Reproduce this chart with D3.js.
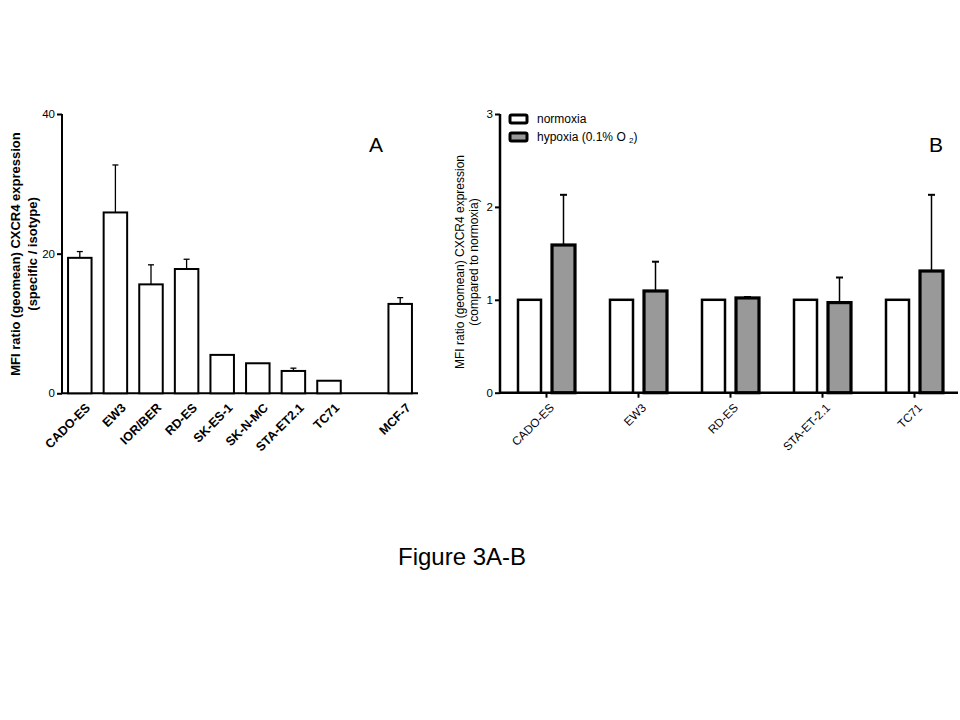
<!DOCTYPE html>
<html><head><meta charset="utf-8">
<script src="https://cdn.jsdelivr.net/npm/d3@7"></script>
<style>body{margin:0;background:#fff}svg{display:block}text{font-family:Arial,"Liberation Sans",sans-serif}</style>
</head><body>
<svg id="c" width="960" height="720"></svg>
<script>
// Panel A data
const catsA = ["CADO-ES","EW3","IOR/BER","RD-ES","SK-ES-1","SK-N-MC","STA-ET2.1","TC71","","MCF-7"];
const valsA = [19.4, 25.9, 15.6, 17.8, 5.5, 4.3, 3.2, 1.8, null, 12.8];
const errA  = [20.3, 32.7, 18.4, 19.2, null, null, 3.6, null, null, 13.7];
const ticksA = [0, 20, 40];
// Panel B data
const catsB = ["CADO-ES","EW3","RD-ES","STA-ET-2.1","TC71"];
const normoxia = [1, 1, 1, 1, 1];
const hypoxia = [1.59, 1.095, 1.02, 0.97, 1.31];
const hypoxiaErr = [2.13, 1.41, 1.03, 1.24, 2.13];
const ticksB = [0, 1, 2, 3];

const svg = d3.select("#c");

// ---------- Panel A ----------
const A = {x0: 62, x1: 418, y0: 393.3, y1: 114};
const xA = d3.scaleBand().domain(d3.range(catsA.length)).range([A.x0, A.x1]).paddingInner(0.34).paddingOuter(0.17);
const yA = d3.scaleLinear().domain([0, 40]).range([A.y0, A.y1]);
const gA = svg.append("g");

const yAxA = gA.append("g").attr("transform", `translate(${A.x0},0)`)
  .call(d3.axisLeft(yA).tickValues(ticksA).tickSize(5).tickPadding(2));
yAxA.select(".domain").attr("stroke-width", 2).attr("d", `M0,${A.y0}V${A.y1}`);
yAxA.selectAll(".tick line").attr("stroke-width", 2);
yAxA.selectAll("text").attr("font-size", 11.5).attr("font-family", "Arial");

gA.append("line").attr("x1", A.x0).attr("x2", A.x1).attr("y1", A.y0).attr("y2", A.y0)
  .attr("stroke", "#000").attr("stroke-width", 2);

const idxA = d3.range(catsA.length).filter(i => valsA[i] != null);
gA.selectAll(".errA").data(idxA.filter(i => errA[i] != null)).join("g").each(function(i){
  const cx = xA(i) + xA.bandwidth()/2, w = 6;
  const g = d3.select(this);
  g.append("line").attr("x1", cx).attr("x2", cx).attr("y1", yA(valsA[i])).attr("y2", yA(errA[i])).attr("stroke", "#000").attr("stroke-width", 1.3);
  g.append("line").attr("x1", cx - w/2).attr("x2", cx + w/2).attr("y1", yA(errA[i])).attr("y2", yA(errA[i])).attr("stroke", "#000").attr("stroke-width", 1.3);
});
gA.selectAll(".barA").data(idxA).join("rect")
  .attr("x", i => xA(i)).attr("width", xA.bandwidth())
  .attr("y", i => yA(valsA[i])).attr("height", i => A.y0 - yA(valsA[i]))
  .attr("fill", "#fff").attr("stroke", "#000").attr("stroke-width", 2);

gA.selectAll(".labA").data(idxA).join("text")
  .attr("transform", i => `translate(${xA(i) + xA.bandwidth()/2 + 5},${A.y0 + 9}) rotate(-45)`)
  .attr("text-anchor", "end").attr("dy", "0.7em")
  .attr("font-size", 12.5).attr("font-weight", "bold").text(i => catsA[i]);

const ylabA = gA.append("text").attr("transform", `translate(24,254) rotate(-90)`)
  .attr("text-anchor", "middle").attr("font-size", 13).attr("font-weight", "bold");
ylabA.append("tspan").attr("x", 0).attr("y", -4).text("MFI ratio (geomean) CXCR4 expression");
ylabA.append("tspan").attr("x", 0).attr("y", 13).text("(specific / isotype)");

gA.append("text").attr("x", 376).attr("y", 152).attr("text-anchor", "middle").attr("font-size", 21).text("A");

// ---------- Panel B ----------
const B = {x0: 500, x1: 958, y0: 392.7, y1: 114};
const groupW = 92;
const xBc = d3.scalePoint().domain(catsB).range([546, 546 + groupW * 4]);
const yB = d3.scaleLinear().domain([0, 3]).range([B.y0, B.y1]);
const gB = svg.append("g");

const yAxB = gB.append("g").attr("transform", `translate(${B.x0},0)`)
  .call(d3.axisLeft(yB).tickValues(ticksB).tickFormat(d3.format("d")).tickSize(5).tickPadding(2));
yAxB.select(".domain").attr("stroke-width", 2.5).attr("d", `M0,${B.y0}V${B.y1}`);
yAxB.selectAll(".tick line").attr("stroke-width", 2);
yAxB.selectAll("text").attr("font-size", 11.5).attr("font-family", "Arial");

const xAxB = gB.append("g").attr("transform", `translate(0,${B.y0})`)
  .call(d3.axisBottom(xBc).tickSize(5).tickFormat(""));
xAxB.select(".domain").attr("stroke-width", 2.5).attr("d", `M${B.x0},0H${B.x1}`);
xAxB.selectAll(".tick line").attr("stroke-width", 2);

const barW = 23;
// error bars
gB.selectAll(".errB").data(catsB).join("g").each(function(c, i){
  const cx = xBc(c) + 5 + barW/2 + 1, w = 7;
  const g = d3.select(this);
  g.append("line").attr("x1", cx).attr("x2", cx).attr("y1", yB(hypoxia[i])).attr("y2", yB(hypoxiaErr[i])).attr("stroke", "#000").attr("stroke-width", 1.5);
  g.append("line").attr("x1", cx - w/2).attr("x2", cx + w/2).attr("y1", yB(hypoxiaErr[i])).attr("y2", yB(hypoxiaErr[i])).attr("stroke", "#000").attr("stroke-width", 2);
});
gB.selectAll(".barN").data(catsB).join("rect")
  .attr("x", c => xBc(c) - 5 - barW).attr("width", barW)
  .attr("y", (c, i) => yB(normoxia[i])).attr("height", (c, i) => B.y0 - yB(normoxia[i]))
  .attr("fill", "#fff").attr("stroke", "#000").attr("stroke-width", 2.5);
gB.selectAll(".barH").data(catsB).join("rect")
  .attr("x", c => xBc(c) + 6).attr("width", barW)
  .attr("y", (c, i) => yB(hypoxia[i])).attr("height", (c, i) => B.y0 - yB(hypoxia[i]))
  .attr("fill", "#999").attr("stroke", "#000").attr("stroke-width", 3.2);

gB.selectAll(".labB").data(catsB).join("text")
  .attr("transform", c => `translate(${xBc(c) + 3},${B.y0 + 10}) rotate(-45)`)
  .attr("text-anchor", "end").attr("dy", "0.7em")
  .attr("font-size", 11.8).text(c => c);

const ylabB = gB.append("text").attr("transform", `translate(467,262) rotate(-90)`)
  .attr("text-anchor", "middle").attr("font-size", 12);
ylabB.append("tspan").attr("x", 0).attr("y", -3).text("MFI ratio (geomean) CXCR4 expression");
ylabB.append("tspan").attr("x", 0).attr("y", 11).text("(compared to normoxia)");

// legend
const legend = [{t: "normoxia", fill: "#fff"}, {t: "hypoxia", fill: "#999"}];
legend.forEach((d, i) => {
  const y = 115 + i * 18;
  gB.append("rect").attr("x", 510).attr("y", y).attr("width", 17).attr("height", 8).attr("rx", 1.5)
    .attr("fill", d.fill).attr("stroke", "#000").attr("stroke-width", 3);
});
gB.append("text").attr("x", 537).attr("y", 123).attr("font-size", 12).text("normoxia");
const hy = gB.append("text").attr("x", 537).attr("y", 141).attr("font-size", 12);
hy.append("tspan").text("hypoxia (0.1% O ");
hy.append("tspan").attr("font-size", 8).attr("dy", 2).text("2");
hy.append("tspan").attr("dy", -2).text(")");

gB.append("text").attr("x", 936).attr("y", 152).attr("text-anchor", "middle").attr("font-size", 21).text("B");

// title
svg.append("text").attr("x", 462).attr("y", 565).attr("text-anchor", "middle").attr("font-size", 24).text("Figure 3A-B");
</script>
</body></html>
